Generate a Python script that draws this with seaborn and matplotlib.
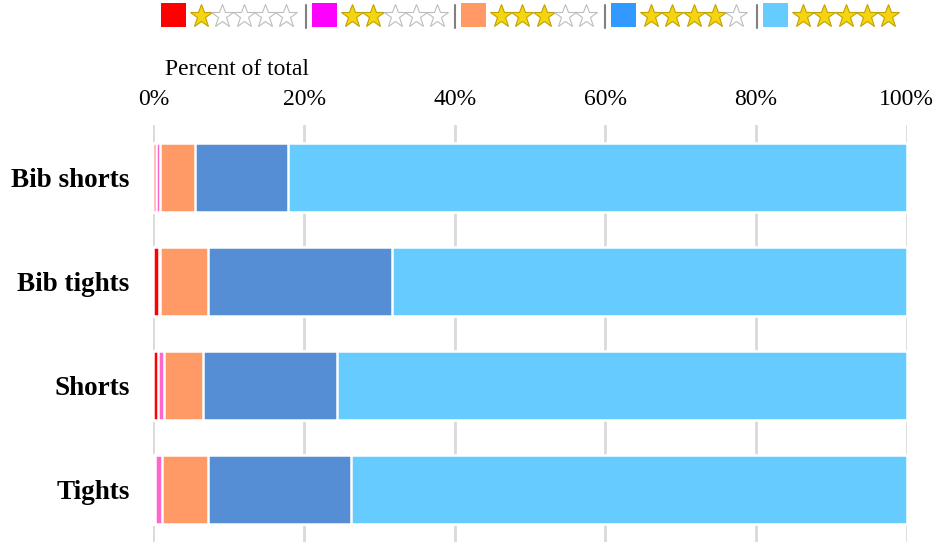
import numpy as np
import pandas as pd
import matplotlib
matplotlib.use("Agg")
import matplotlib.pyplot as plt
from matplotlib.patches import Rectangle
from matplotlib.lines import Line2D
from matplotlib.ticker import PercentFormatter
import seaborn as sns

# share of reviews (%) per star rating
categories = ["Bib shorts", "Bib tights", "Shorts", "Tights"]
one_star = [0.3, 0.7, 0.65, 0.2]
two_star = [0.65, 0.25, 0.75, 1.0]
three_star = [4.6, 6.35, 5.25, 6.0]
four_star = [12.3, 24.4, 17.75, 19.0]
five_star = [82.15, 68.3, 75.6, 73.8]

bar_colors = ["#FF0000", "#FF66CC", "#FF9966", "#558ED5", "#66CCFF"]
legend_colors = ["#FF0000", "#FF00FF", "#FF9966", "#3399FF", "#66CCFF"]

sns.set_style("white")
plt.rcParams["font.family"] = ["Liberation Serif", "DejaVu Serif"]
plt.rcParams["text.color"] = "black"
plt.rcParams["axes.labelcolor"] = "black"
plt.rcParams["xtick.color"] = "black"
plt.rcParams["ytick.color"] = "black"

df = pd.DataFrame({"Product": categories, "1": one_star, "2": two_star,
                   "3": three_star, "4": four_star, "5": five_star})
rating_cols = ["1", "2", "3", "4", "5"]
cum = df[rating_cols].cumsum(axis=1)

W, H = 938, 546
fig = plt.figure(figsize=(W / 100, H / 100), dpi=100)
ax = fig.add_axes([153.3 / W, 1 - 542 / H, (906.8 - 153.3) / W, (542 - 125) / H])

# stacked bars: draw cumulative totals from widest to narrowest
for i in reversed(range(5)):
    sns.barplot(x=cum[rating_cols[i]], y=df["Product"], orient="h",
                color=bar_colors[i], width=0.66, edgecolor="white",
                linewidth=1.8, saturation=1, ax=ax, zorder=3)

ax.set_xlim(0, 100)
ax.xaxis.set_major_formatter(PercentFormatter(decimals=0))
ax.xaxis.tick_top()
ax.xaxis.set_label_position("top")
ax.set_xlabel("Percent of total", fontsize=17, labelpad=10, loc="left")
ax.xaxis.label.set_x(0.0155)
ax.set_ylabel("")
ax.tick_params(axis="x", length=0, pad=11, labelsize=17, colors="black")
ax.tick_params(axis="y", length=0, pad=17, colors="black")
for lab in ax.get_yticklabels():
    lab.set_fontweight("bold")
    lab.set_fontsize(19.5)
ax.xaxis.grid(True, color="#D9D9D9", linewidth=2)
ax.set_axisbelow(True)
for s in ax.spines.values():
    s.set_visible(False)

# legend: colour square followed by star ratings
sq_left = [161, 312, 461, 611, 763]
for i in range(5):
    x0 = sq_left[i]
    fig.add_artist(Rectangle((x0 / W, 1 - 27 / H), 25 / W, 24 / H,
                             transform=fig.transFigure, facecolor=legend_colors[i],
                             edgecolor="none"))
    for k in range(5):
        cx = (x0 + 39.7 + 21.4 * k) / W
        filled = k <= i
        fig.add_artist(Line2D([cx], [1 - 15.5 / H], transform=fig.transFigure,
                              marker="*", markersize=17, linestyle="none",
                              markerfacecolor="#F5D50F" if filled else "white",
                              markeredgecolor="#C2A200" if filled else "#BDBDBD",
                              markeredgewidth=0.8))
    if i > 0:
        fig.add_artist(Line2D([(x0 - 6) / W] * 2, [1 - 5 / H, 1 - 28 / H],
                              transform=fig.transFigure, color="#808080", linewidth=1.5))

fig.savefig("out.png", dpi=100)
